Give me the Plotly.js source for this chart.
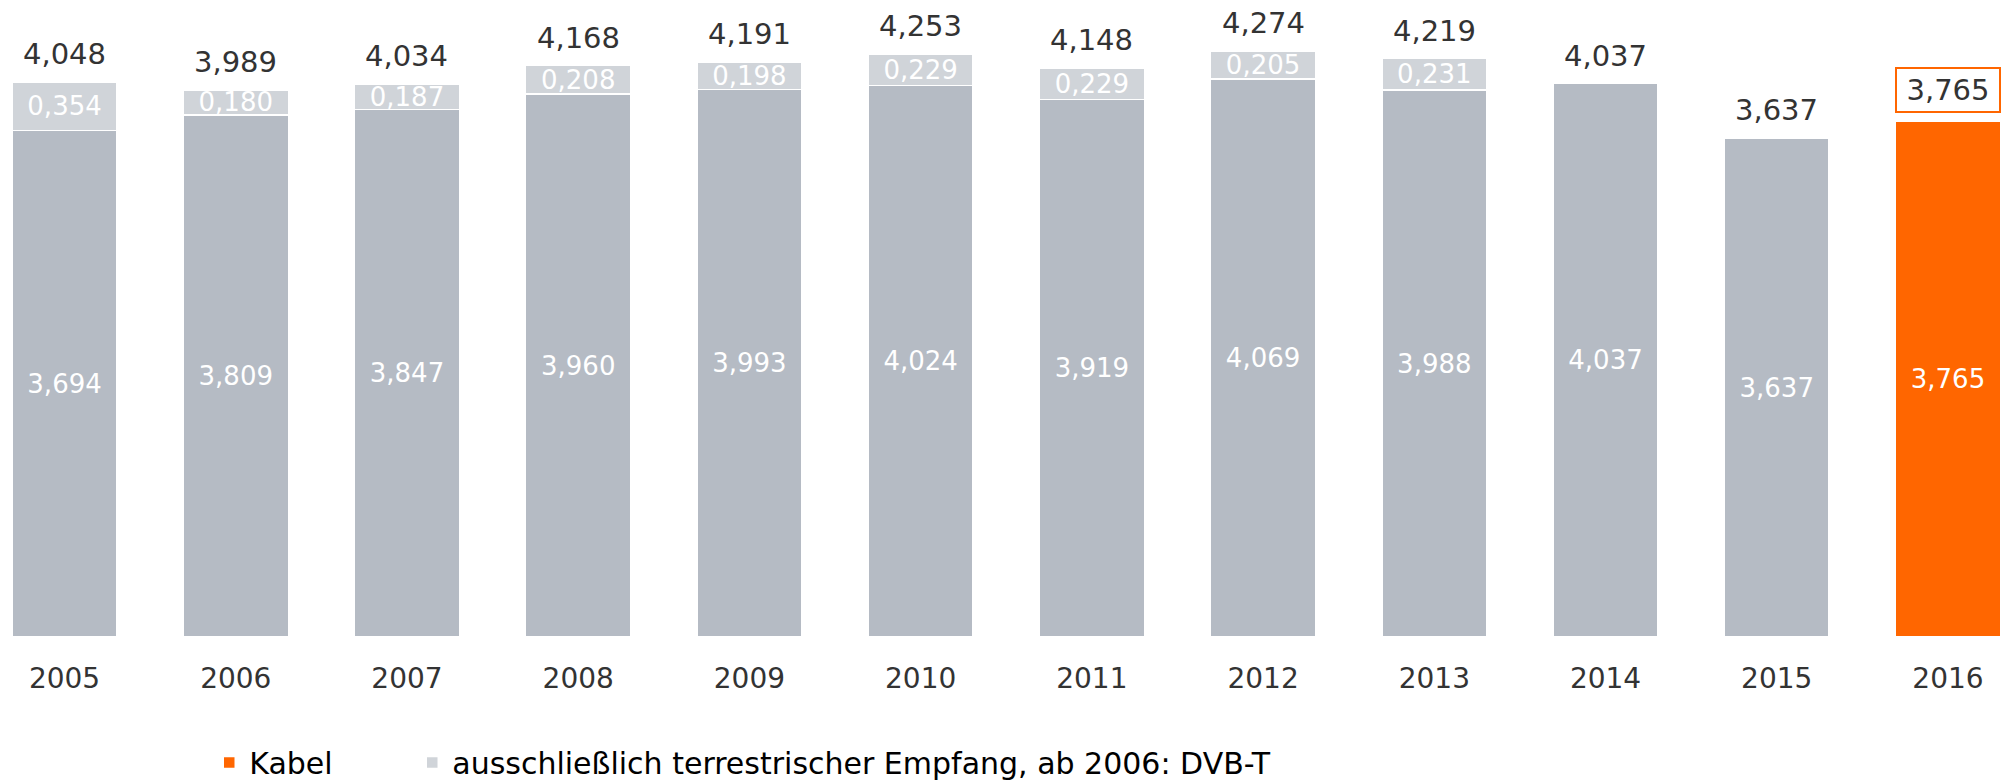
<!DOCTYPE html>
<html>
<head>
<meta charset="utf-8">
<script src="https://cdn.plot.ly/plotly-3.0.1.min.js"></script>
<style>html,body{margin:0;padding:0;background:#fff;}#chart{width:2012px;height:784px;}</style>
</head>
<body>
<div id="chart"></div>
<script>
var years = ['2005','2006','2007','2008','2009','2010','2011','2012','2013','2014','2015','2016'];
var kabel = [3.694, 3.809, 3.847, 3.960, 3.993, 4.024, 3.919, 4.069, 3.988, 4.037, 3.637, 3.765];
var terrestrisch = [0.354, 0.180, 0.187, 0.208, 0.198, 0.229, 0.229, 0.205, 0.231, null, null, null];
var totals = [4.048, 3.989, 4.034, 4.168, 4.191, 4.253, 4.148, 4.274, 4.219, 4.037, 3.637, 3.765];
var seriesNames = ['Kabel', 'ausschließlich terrestrischer Empfang, ab 2006: DVB-T'];

var GRAY = '#B5BBC4', LIGHT = '#D0D4D9', ORANGE = '#FF6600';
var FONT = 'DejaVu Sans, Verdana, sans-serif';
function fmt(v){ return v == null ? '' : v.toFixed(3).replace('.', ','); }

// Kabel: reversed order so the first point (legend swatch) is the highlighted 2016 bar
var idx = years.map(function(_, i){ return i; }).reverse();
var kabelColors = years.map(function(y, i){ return i === years.length - 1 ? ORANGE : GRAY; });

var traceKabel = {
  type: 'bar', name: seriesNames[0], legend: 'legend',
  x: idx.map(function(i){ return years[i]; }),
  y: idx.map(function(i){ return kabel[i]; }),
  text: idx.map(function(i){ return fmt(kabel[i]); }),
  textposition: 'inside', insidetextanchor: 'middle', constraintext: 'none',
  textfont: {family: FONT, size: 26, color: '#ffffff'},
  marker: {color: idx.map(function(i){ return kabelColors[i]; }), line: {color: '#ffffff', width: 1.5}},
  hoverinfo: 'x+y'
};
var traceTerr = {
  type: 'bar', name: seriesNames[1], legend: 'legend2',
  x: years, y: terrestrisch,
  text: terrestrisch.map(fmt),
  textposition: 'inside', insidetextanchor: 'middle', constraintext: 'none',
  textfont: {family: FONT, size: 26, color: '#ffffff'},
  marker: {color: LIGHT, line: {color: '#ffffff', width: 1.5}},
  hoverinfo: 'x+y'
};

var annotations = years.map(function(y, i){
  var last = i === years.length - 1;
  var a = {
    x: i, y: totals[i], xref: 'x', yref: 'y',
    text: fmt(totals[i]), showarrow: false,
    xanchor: 'center', yanchor: 'bottom', yshift: last ? 8 : 9,
    font: {family: FONT, size: 29, color: '#333333'}
  };
  if (last) {
    a.bordercolor = ORANGE; a.borderwidth = 2; a.borderpad = 3; a.width = 96; a.height = 36;
  }
  return a;
});

var legendFont = {family: FONT, size: 30, color: '#000000'};
var layout = {
  width: 2012, height: 784,
  margin: {l: 0, r: 0, t: 0, b: 147, autoexpand: false},
  paper_bgcolor: '#ffffff', plot_bgcolor: '#ffffff',
  barmode: 'stack', bargap: 0.387,
  font: {family: FONT, color: '#333333'},
  xaxis: {
    type: 'category', categoryorder: 'array', categoryarray: years,
    range: [-0.377, 11.374], showgrid: false, zeroline: false, showline: false,
    ticks: '', ticklabelstandoff: 22,
    tickfont: {family: FONT, size: 28, color: '#333333'}
  },
  yaxis: {range: [0, 4.646], visible: false, showgrid: false, zeroline: false},
  showlegend: true,
  legend: {
    orientation: 'h', x: 0.104, xanchor: 'left', y: -0.197, yanchor: 'middle',
    font: legendFont, bgcolor: 'rgba(0,0,0,0)', tracegroupgap: 0
  },
  legend2: {
    orientation: 'h', x: 0.2049, xanchor: 'left', y: -0.197, yanchor: 'middle',
    font: legendFont, bgcolor: 'rgba(0,0,0,0)', tracegroupgap: 0
  },
  annotations: annotations
};

Plotly.newPlot('chart', [traceKabel, traceTerr], layout, {displayModeBar: false, staticPlot: true});
</script>
</body>
</html>
